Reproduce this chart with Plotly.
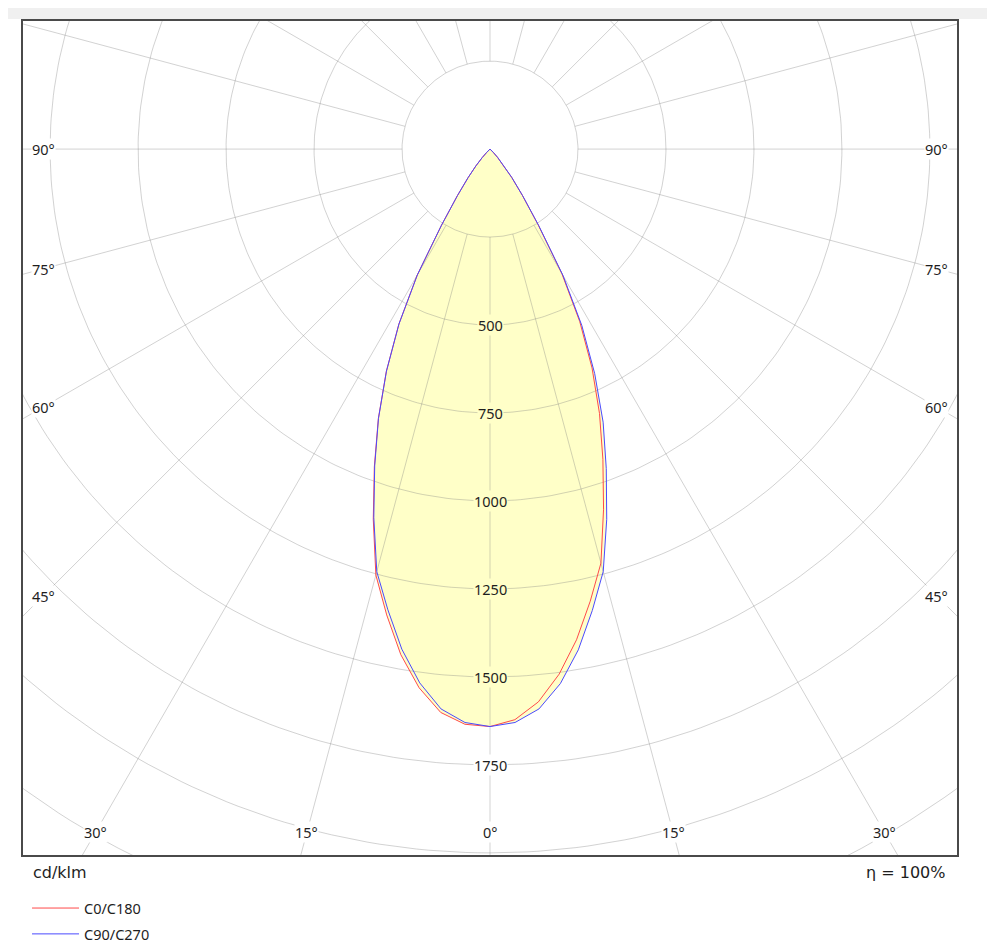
import numpy as np
import plotly.graph_objects as go

# ---- data (cd/klm) ----
GAMMA = [0, 2.5, 5, 7.5, 10, 12.5, 15, 17.5, 20, 22.5, 25, 27.5, 30, 32.5,
         35, 37.5, 40, 42.5, 45, 47.5, 50, 55, 60, 70, 80, 90]
C0 = [1641, 1623, 1577, 1505, 1416, 1316, 1218, 1073, 938, 813, 686, 552, 408,
      253, 160, 101, 61, 31, 12, 5, 2, 0, 0, 0, 0, 0]
C180 = [1641, 1636, 1607, 1544, 1459, 1356, 1253, 1103, 961, 829, 697, 561, 414,
        257, 162, 103, 63, 33, 13, 5, 2, 0, 0, 0, 0, 0]
C90 = [1641, 1631, 1597, 1532, 1445, 1343, 1243, 1103, 966, 840, 704, 565, 415,
       257, 161, 102, 62, 32, 13, 5, 2, 0, 0, 0, 0, 0]
C270 = [1641, 1631, 1597, 1530, 1443, 1341, 1243, 1098, 958, 828, 696, 560, 413,
        256, 161, 102, 62, 32, 13, 5, 2, 0, 0, 0, 0, 0]

RING_VALUES = [250, 500, 750, 1000, 1250, 1500, 1750, 2000, 2250, 2500, 2750]
RING_LABELS = [500, 750, 1000, 1250, 1500, 1750]
SPOKE_ANGLES = list(range(0, 360, 15))
ANGLE_LABELS = [0, 15, 30, 45, 60, 75, 90]
SERIES_NAMES = ["C0/C180", "C90/C270"]
UNIT_TEXT = "cd/klm"
EFF_TEXT = "η = 100%"

# ---- styles ----
FONT = "DejaVu Sans"
TICK_FONT = "Noto Sans"
TXT = "#1e1e1e"
FILL = "#ffffc8"
GRID = "rgba(125,125,125,0.35)"
RED = "#ff4a4a"
BLUE = "#4a4aff"
X_RANGE = [-1327, 1327]
Y_RANGE = [-2006, 364]
INSET_X = 1270   # where angle labels sit (data units)
INSET_Y = 1941


def curve(left, right):
    g = np.radians(GAMMA)
    l = np.asarray(left, float)
    r = np.asarray(right, float)
    xl, yl = -l * np.sin(g), -l * np.cos(g)
    xr, yr = r * np.sin(g), -r * np.cos(g)
    return (np.concatenate([xl[::-1], xr[1:]]),
            np.concatenate([yl[::-1], yr[1:]]))


x_red, y_red = curve(C180, C0)
x_blue, y_blue = curve(C270, C90)

fig = go.Figure()

# yellow fill under both planes
for xs, ys in [(x_red, y_red), (x_blue, y_blue)]:
    fig.add_trace(go.Scatter(x=xs, y=ys, mode="lines", fill="toself",
                             fillcolor=FILL, line=dict(width=0, color=FILL),
                             showlegend=False, hoverinfo="skip"))

# polar grid: rings
t = np.radians(np.arange(0, 361, 1))
rx, ry = [], []
for R in RING_VALUES:
    rx += list(R * np.sin(t)) + [None]
    ry += list(-R * np.cos(t)) + [None]
fig.add_trace(go.Scatter(x=rx, y=ry, mode="lines",
                         line=dict(color=GRID, width=1),
                         showlegend=False, hoverinfo="skip"))

# polar grid: spokes (start at the first ring)
sx, sy = [], []
r_in, r_out = RING_VALUES[0], RING_VALUES[-1]
for a in SPOKE_ANGLES:
    ar = np.radians(a)
    sx += [r_in * np.sin(ar), r_out * np.sin(ar), None]
    sy += [-r_in * np.cos(ar), -r_out * np.cos(ar), None]
fig.add_trace(go.Scatter(x=sx, y=sy, mode="lines",
                         line=dict(color=GRID, width=1),
                         showlegend=False, hoverinfo="skip"))

# intensity curves
fig.add_trace(go.Scatter(x=x_red, y=y_red, mode="lines", name=SERIES_NAMES[0],
                         line=dict(color=RED, width=1), legendgroup="a",
                         hoverinfo="skip"))
fig.add_trace(go.Scatter(x=x_blue, y=y_blue, mode="lines", name=SERIES_NAMES[1],
                         line=dict(color=BLUE, width=1), legendgroup="b",
                         hoverinfo="skip"))

annotations = []
# radial value labels along the nadir axis
for v in RING_LABELS:
    annotations.append(dict(x=0, y=-v, xref="x", yref="y", text=str(v),
                            showarrow=False,
                            font=dict(family=TICK_FONT, size=14.5, color=TXT),
                            bgcolor=FILL if v < C0[0] else "white",
                            borderpad=0))
# angle labels on the inset frame
for a in ANGLE_LABELS:
    ar = np.radians(a)
    for side in ([1] if a == 0 else [-1, 1]):
        if np.tan(ar) * INSET_Y <= INSET_X:
            px, py = side * np.tan(ar) * INSET_Y, -INSET_Y
        else:
            px, py = side * INSET_X, -INSET_X / np.tan(ar)
        annotations.append(dict(x=px, y=py, xref="x", yref="y",
                                text=f"{a}°", showarrow=False,
                                font=dict(family=TICK_FONT, size=14.5,
                                          color=TXT),
                                bgcolor="white", borderpad=0))
annotations.append(dict(x=0.0086, y=-0.0204, xref="paper", yref="paper",
                        text=UNIT_TEXT, showarrow=False, xanchor="left",
                        yanchor="middle",
                        font=dict(family=FONT, size=16, color=TXT)))
annotations.append(dict(x=0.989, y=-0.0204, xref="paper", yref="paper",
                        text=EFF_TEXT, showarrow=False, xanchor="right",
                        yanchor="middle",
                        font=dict(family=FONT, size=16, color=TXT)))

axis_common = dict(showgrid=False, zeroline=False, showticklabels=False,
                   ticks="", showline=True, mirror=True, linecolor="#4a4a4a",
                   linewidth=1.5, fixedrange=True)

# the page adds an 8px body margin; the figure is offset to compensate
fig.update_layout(
    width=987, height=941,
    margin=dict(l=15, r=38, t=13, b=94, autoexpand=False),
    paper_bgcolor="white", plot_bgcolor="white",
    xaxis=dict(range=X_RANGE, **axis_common),
    yaxis=dict(range=Y_RANGE, **axis_common),
    annotations=annotations,
    showlegend=True,
    legend=dict(x=0.0043, y=-0.0445, xanchor="left", yanchor="top",
                traceorder="grouped", tracegroupgap=4, itemwidth=47,
                font=dict(family=TICK_FONT, size=14.5, color=TXT),
                bgcolor="rgba(0,0,0,0)"),
    shapes=[dict(type="rect", xref="paper", yref="paper",
                 x0=-0.017, x1=1.041, y0=1 + 2 / 834, y1=1 + 14 / 834,
                 fillcolor="#f0f0f0", line=dict(width=0), layer="below")],
)

fig.write_html("out.html")
